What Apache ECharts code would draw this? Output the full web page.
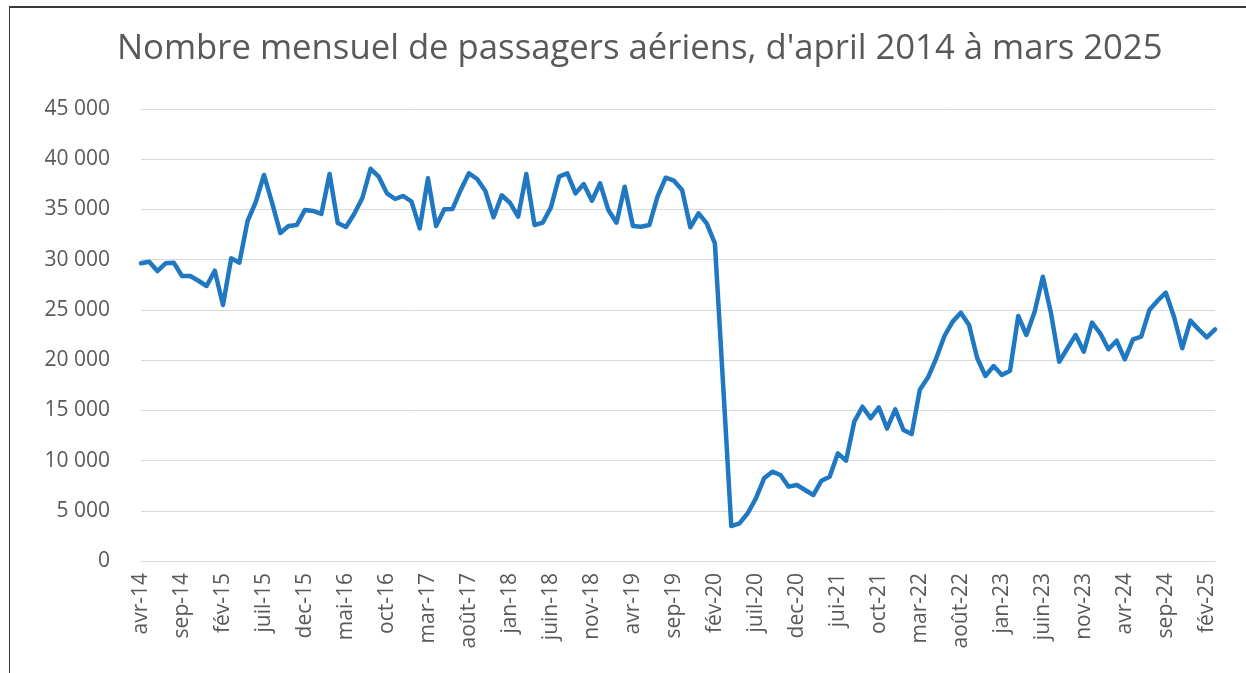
<!DOCTYPE html>
<html>
<head>
<meta charset="utf-8">
<script src="https://cdn.jsdelivr.net/npm/echarts@6/dist/echarts.min.js"></script>
<style>
html,body{margin:0;padding:0;background:#fff;}
#frame{position:absolute;left:9px;top:6px;width:1240px;height:680px;border-left:1.5px solid #3a3a3a;border-top:2px solid #3a3a3a;}
#c{position:absolute;left:0;top:0;width:1246px;height:673px;}
</style>
</head>
<body>
<div id="frame"></div>
<div id="c"></div>
<script>
const months = ['avr','mai','juin','juil','août','sep','oct','nov','dec','jan','fév','mar'];
const startYear = 14;
const values = [
29640,29800,28870,29640,29700,28370,28370,27900,27380,28900,25490,30130,
29700,33850,35740,38430,35640,32650,33350,33450,34950,34850,34550,38530,
33650,33250,34550,36140,39050,38260,36600,36040,36340,35770,33120,38100,
33350,35010,35050,36940,38600,38030,36840,34220,36410,35670,34280,38530,
33450,33680,35210,38260,38600,36600,37530,35870,37600,34950,33680,37260,
33350,33280,33450,36270,38160,37860,36940,33220,34620,33620,31630,17600,
3480,3750,4750,6240,8230,8890,8560,7400,7570,7070,6570,7990,
8390,10720,9990,13870,15360,14210,15300,13210,15100,13040,12640,17060,
18290,20180,22400,23830,24720,23500,20180,18420,19410,18520,18950,24390,
22500,24820,28300,24660,19840,21180,22500,20840,23730,22670,21080,21930,
20080,22070,22330,24990,25920,26710,24320,21180,23930,23060,22270,23060
];
// category labels: month-year; the reference shows "jui-21" for May 2021
const labelOverrides = {'mai-21':'jui-21'};
const categories = values.map((v,i)=>{
  const m = months[i%12];
  const y = startYear + Math.floor((i+3)/12);
  const s = m + '-' + y;
  return labelOverrides[s] || s;
});
const yMin = 0, yMax = 45000, yInterval = 5000;

const chart = echarts.init(document.getElementById('c'));
const fontFam = '"Open Sans", "Liberation Sans", sans-serif';
chart.setOption({
  animation:false,
  title:{
    text:"Nombre mensuel de passagers aériens, d'april 2014 à mars 2025",
    left:112, top:27,
    textStyle:{fontFamily:fontFam,fontSize:34.7,fontWeight:'normal',color:'#595959'}
  },
  grid:{left:141,right:31,top:109,bottom:112,containLabel:false},
  xAxis:{
    type:'category', data:categories, boundaryGap:false,
    axisLine:{show:true,lineStyle:{color:'#d9d9d9',width:1}},
    axisTick:{show:false},
    axisLabel:{interval:4,rotate:90,color:'#595959',fontSize:21,fontFamily:fontFam,margin:12},
    splitLine:{show:false}
  },
  yAxis:{
    type:'value', min:yMin, max:yMax, interval:yInterval,
    axisLine:{show:false}, axisTick:{show:false},
    axisLabel:{color:'#595959',fontSize:21,fontFamily:fontFam,margin:31,
      formatter:v=>String(v).replace(/\B(?=(\d{3})+(?!\d))/g,' ')},
    splitLine:{lineStyle:{color:'#d9d9d9',width:1}}
  },
  series:[{
    type:'line', data:values, showSymbol:false, symbol:'none',
    lineStyle:{color:'#1f78c1',width:4.5,join:'round',cap:'round'},
    itemStyle:{color:'#1f78c1'}
  }]
});
</script>
</body>
</html>
